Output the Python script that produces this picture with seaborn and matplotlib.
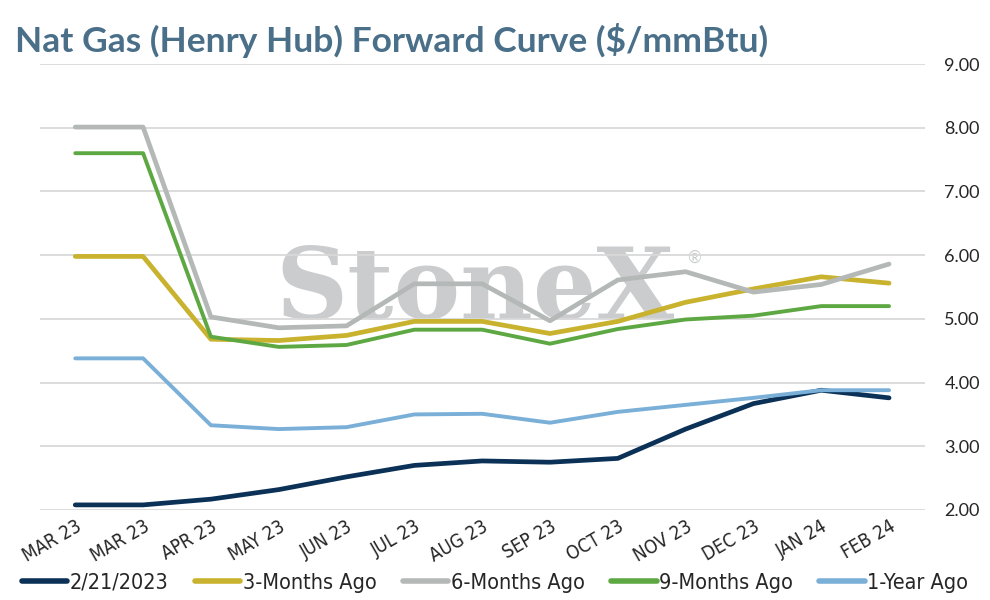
import numpy as np
import pandas as pd
import matplotlib.pyplot as plt
import seaborn as sns
from matplotlib.font_manager import FontProperties

months = ['MAR 23', 'MAR 23', 'APR 23', 'MAY 23', 'JUN 23', 'JUL 23', 'AUG 23',
          'SEP 23', 'OCT 23', 'NOV 23', 'DEC 23', 'JAN 24', 'FEB 24']

current = [2.08, 2.08, 2.17, 2.32, 2.52, 2.70, 2.77, 2.75, 2.81, 3.27, 3.67, 3.88, 3.76]
three_mo = [5.98, 5.98, 4.68, 4.66, 4.74, 4.96, 4.96, 4.77, 4.96, 5.26, 5.47, 5.66, 5.56]
six_mo = [8.01, 8.01, 5.03, 4.86, 4.89, 5.55, 5.55, 4.97, 5.61, 5.74, 5.42, 5.54, 5.86]
nine_mo = [7.60, 7.60, 4.72, 4.56, 4.59, 4.83, 4.83, 4.61, 4.84, 4.99, 5.05, 5.20, 5.20]
one_yr = [4.38, 4.38, 3.33, 3.27, 3.30, 3.50, 3.51, 3.37, 3.54, 3.65, 3.76, 3.88, 3.88]

series_names = ['2/21/2023', '3-Months Ago', '6-Months Ago', '9-Months Ago', '1-Year Ago']
series_vals = [current, three_mo, six_mo, nine_mo, one_yr]
colors = ['#0B3157', '#C8B22E', '#B4B9B8', '#5EA843', '#7AAFD7']
widths = [3.4, 3.4, 3.4, 2.8, 2.8]

rows = []
for name, vals in zip(series_names, series_vals):
    for i, v in enumerate(vals):
        rows.append({'pos': i, 'price': v, 'series': name})
df = pd.DataFrame(rows)

sns.set_theme(style='white')
plt.rcParams['font.family'] = ['Lato', 'DejaVu Sans']
narrow_tick = FontProperties(family='DejaVu Sans', stretch='condensed', size=13.5)
narrow_leg = FontProperties(family='DejaVu Sans', stretch='condensed', size=15.5)

fig = plt.figure(figsize=(9.9, 6), dpi=100)
ax = fig.add_axes([40 / 990, 0.15, (925 - 40) / 990, (510 - 64) / 600])

# watermark behind the curves
ax.text(5.9, 5.0, 'StoneX', ha='center', va='baseline',
        fontsize=72, fontweight='bold', family='DejaVu Serif',
        color='#CBCCCE', zorder=0)
ax.text(9.12, 5.96, '\u00ae', ha='center', va='center',
        fontsize=12, color='#CBCCCE', zorder=0)

for name, c, lw in zip(series_names, colors, widths):
    sns.lineplot(data=df[df['series'] == name], x='pos', y='price', ax=ax,
                 color=c, linewidth=lw, label=name, zorder=3,
                 solid_capstyle='round')

ax.set_ylim(2, 9)
ax.set_xlim(-0.52, 12.53)
ax.set_yticks(np.arange(2, 9.5, 1))
ax.set_yticklabels([f'{v:.2f}' for v in np.arange(2, 9.5, 1)], fontsize=13,
                   color='#262626')
ax.yaxis.tick_right()
ax.set_xticks(range(len(months)))
ax.set_xticklabels(months, rotation=30, ha='right', rotation_mode='anchor',
                   color='#262626', fontproperties=narrow_tick)
ax.tick_params(axis='y', length=0, pad=14)
ax.tick_params(axis='x', length=0, pad=5)
ax.set_xlabel('')
ax.set_ylabel('')
ax.grid(axis='y', color='#D9D9D9', linewidth=1.3, zorder=1)
ax.grid(axis='x', visible=False)
sns.despine(ax=ax, left=True, bottom=True, right=True, top=True)

leg = ax.legend(loc='center', bbox_to_anchor=(0.5 * 990 / 885 - 40 / 885, -0.163),
                bbox_transform=ax.transAxes, ncol=5, frameon=False,
                handlelength=2.1, handletextpad=0.1, columnspacing=1.25,
                prop=narrow_leg)
for t in leg.get_texts():
    t.set_color('#262626')
for h in leg.get_lines():
    h.set_linewidth(4)

fig.text(15 / 990, 1 - 40 / 600, 'Nat Gas (Henry Hub) Forward Curve ($/mmBtu)',
         fontsize=25.5, fontweight='bold', color='#4A6F89', va='center', ha='left')

fig.savefig('out.png', dpi=100)
